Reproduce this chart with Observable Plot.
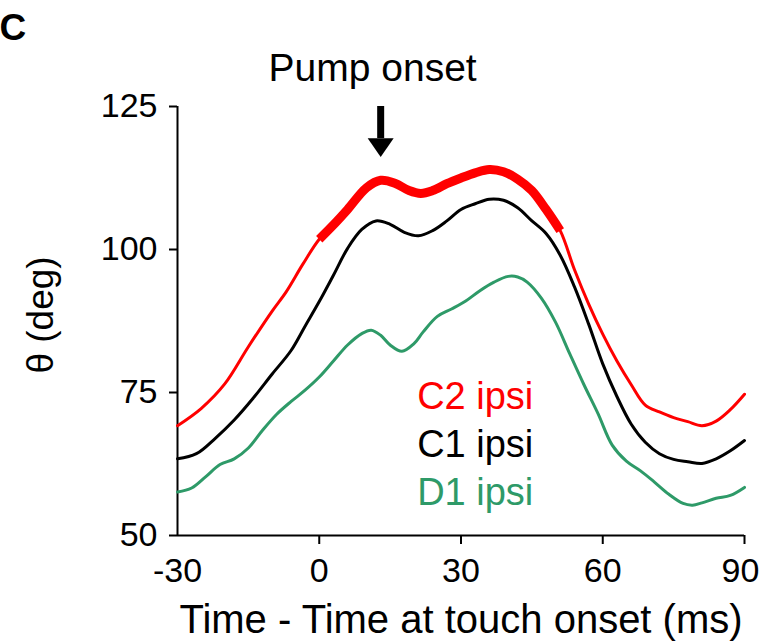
<!DOCTYPE html>
<html>
<head>
<meta charset="utf-8">
<script src="https://cdn.jsdelivr.net/npm/d3@7"></script>
<script src="https://cdn.jsdelivr.net/npm/@observablehq/plot@0.6"></script>
<style>
  html, body { margin: 0; padding: 0; background: #fff; }
  #chart { width: 759px; height: 641px; }
</style>
</head>
<body>
<div id="chart"></div>
<script>
// ---- Data ----
const tC2 = [-30, -25, -20, -15, -10, -7, -3.5, 0, 3, 6, 10, 13, 16, 19, 21.5, 24, 27, 30, 33, 36, 39, 42, 45, 48, 51, 54, 57, 60, 63, 66, 69, 72, 75, 78, 81, 84, 87, 90];
const thetaC2 = [69.2, 72.2, 76.5, 83.0, 89.2, 92.6, 97.4, 101.8, 104.3, 107.0, 110.8, 112.1, 111.6, 110.3, 109.8, 110.3, 111.5, 112.5, 113.4, 114.0, 113.6, 112.3, 110.3, 107.0, 103.3, 96.5, 90.5, 85.2, 80.5, 76.4, 72.8, 71.6, 70.6, 69.9, 69.2, 70.0, 72.0, 74.7];

const tC1 = [-30, -26, -22, -18, -14, -10, -6, -3, 0, 3, 6, 9, 12, 15, 18, 21, 24, 27, 30, 33, 36, 39, 42, 45, 48, 51, 54, 57, 60, 63, 66, 69, 72, 75, 78, 81, 84, 87, 90];
const thetaC1 = [63.4, 64.3, 67.0, 70.2, 74.0, 78.2, 82.3, 86.6, 90.9, 95.5, 100.2, 103.5, 105.0, 104.4, 103.0, 102.4, 103.3, 105.0, 107.0, 108.0, 108.8, 108.6, 107.3, 105.0, 102.8, 99.0, 93.5, 87.0, 80.0, 74.3, 69.5, 66.3, 64.3, 63.3, 62.9, 62.6, 63.4, 64.8, 66.6];

const tD1 = [-30, -27, -24, -21, -18, -15, -12, -9, -6, -3, 0, 3, 6, 9, 11, 13, 15, 17.5, 20, 22, 25, 28, 31, 34, 37, 40, 42, 44, 47, 50, 53, 56, 59, 62, 65, 68, 71, 74, 77, 79, 81, 84, 87, 90];
const thetaD1 = [57.6, 58.3, 60.3, 62.4, 63.4, 65.3, 68.4, 71.2, 73.4, 75.4, 77.7, 80.5, 83.3, 85.3, 85.9, 85.0, 83.3, 82.2, 83.5, 85.6, 88.3, 89.6, 91.0, 92.8, 94.3, 95.3, 95.2, 94.3, 91.5, 87.3, 81.8, 76.4, 71.3, 65.8, 63.0, 61.3, 59.3, 57.2, 55.6, 55.3, 55.7, 56.5, 57.0, 58.4];

// Thick (significant) segment of C2
const thickStart = 0, thickEnd = 51;

const xTicks = [-30, 0, 30, 60, 90];
const yTicks = [50, 75, 100, 125];
const legendLabels = ["C2 ipsi", "C1 ipsi", "D1 ipsi"];
const legendColors = ["#ff0000", "#000000", "#2e9a68"];
const legendTheta = [74.3, 65.9, 57.4];
const legendT = 45.3;

const pumpOnsetT = 13;
const pumpLabel = "Pump onset";
const xLabel = "Time - Time at touch onset (ms)";
const yLabel = "θ (deg)";
const panelLetter = "C";

// ---- Tables ----
const c2 = tC2.map((t, i) => ({t, v: thetaC2[i]}));
const c1 = tC1.map((t, i) => ({t, v: thetaC1[i]}));
const d1 = tD1.map((t, i) => ({t, v: thetaD1[i]}));
const c2Thick = c2.filter(d => d.t >= thickStart && d.t <= thickEnd);
const legend = legendLabels.map((label, i) => ({label, color: legendColors[i], v: legendTheta[i]}));

const arrowHead = {
  draw(ctx, size) {
    const r = Math.sqrt(size / Math.PI);
    const h = 0.72 * r;
    ctx.moveTo(-r, -h);
    ctx.lineTo(r, -h);
    ctx.lineTo(0, h);
    ctx.closePath();
  }
};

const FONT = "'Liberation Sans', Arial, Helvetica, sans-serif";
const fmt = d => String(d);
const xFirst = xTicks[0], xLast = xTicks[xTicks.length - 1];

const chart = Plot.plot({
  width: 759,
  height: 641,
  marginLeft: 177,
  marginRight: 15,
  marginTop: 106,
  marginBottom: 106,
  style: {fontFamily: FONT, color: "#000", background: "#fff", overflow: "visible"},
  x: {domain: [-30, 90]},
  y: {domain: [50, 125]},
  marks: [
    // axis lines
    Plot.ruleX([-30], {y1: 50, y2: 125, stroke: "#000", strokeWidth: 2}),
    Plot.ruleY([50], {x1: -30, x2: 90, stroke: "#000", strokeWidth: 2}),
    Plot.axisY({ticks: yTicks, tickFormat: fmt, tickSize: 8, tickPadding: 12, fontSize: 34, label: null, strokeWidth: 2}),
    Plot.axisX({ticks: xTicks.filter(d => d !== xFirst), tickFormat: d => d === xLast ? "" : String(d), tickSize: 9, tickPadding: 13, fontSize: 34, label: null, strokeWidth: 2}),
    Plot.axisX({ticks: [xFirst], tickFormat: fmt, tickSize: 0, tickPadding: 22, fontSize: 34, label: null}),
    Plot.axisX({ticks: [xLast], tickFormat: fmt, tickSize: 0, tickPadding: 22, fontSize: 34, label: null, dx: -4}),
    // series
    Plot.line(d1, {x: "t", y: "v", stroke: "#2e9a68", strokeWidth: 3, curve: "catmull-rom"}),
    Plot.line(c1, {x: "t", y: "v", stroke: "#000", strokeWidth: 3, curve: "catmull-rom"}),
    Plot.line(c2, {x: "t", y: "v", stroke: "#ff0000", strokeWidth: 3, curve: "catmull-rom"}),
    Plot.line(c2Thick, {x: "t", y: "v", stroke: "#ff0000", strokeWidth: 9, strokeLinecap: "butt", curve: "catmull-rom"}),
    // legend labels
    Plot.text(legend, {x: legendT, y: "v", text: "label", fill: "color", textAnchor: "end", fontSize: 38}),
    // pump onset arrow
    Plot.ruleX([pumpOnsetT], {y1: 125, y2: 119.4, stroke: "#000", strokeWidth: 7}),
    Plot.dot([pumpOnsetT], {x: d => d, y: 117.8, r: 13, symbol: arrowHead, fill: "#000", stroke: null}),
    Plot.text([pumpLabel], {x: 11.3, y: 131.7, text: d => d, fontSize: 39}),
    // axis titles
    Plot.text([xLabel], {frameAnchor: "bottom", text: d => d, textAnchor: "middle", lineAnchor: "middle", dy: 85, fontSize: 40}),
    Plot.text([yLabel], {frameAnchor: "left", text: d => d, textAnchor: "middle", lineAnchor: "middle", rotate: -90, dx: -136, dy: -6, fontSize: 37}),
    // panel letter
    Plot.text([panelLetter], {frameAnchor: "top-left", text: d => d, textAnchor: "start", lineAnchor: "top", dx: -178, dy: -93, fontSize: 37, fontWeight: "bold"})
  ]
});
document.getElementById("chart").appendChild(chart);
</script>
</body>
</html>
